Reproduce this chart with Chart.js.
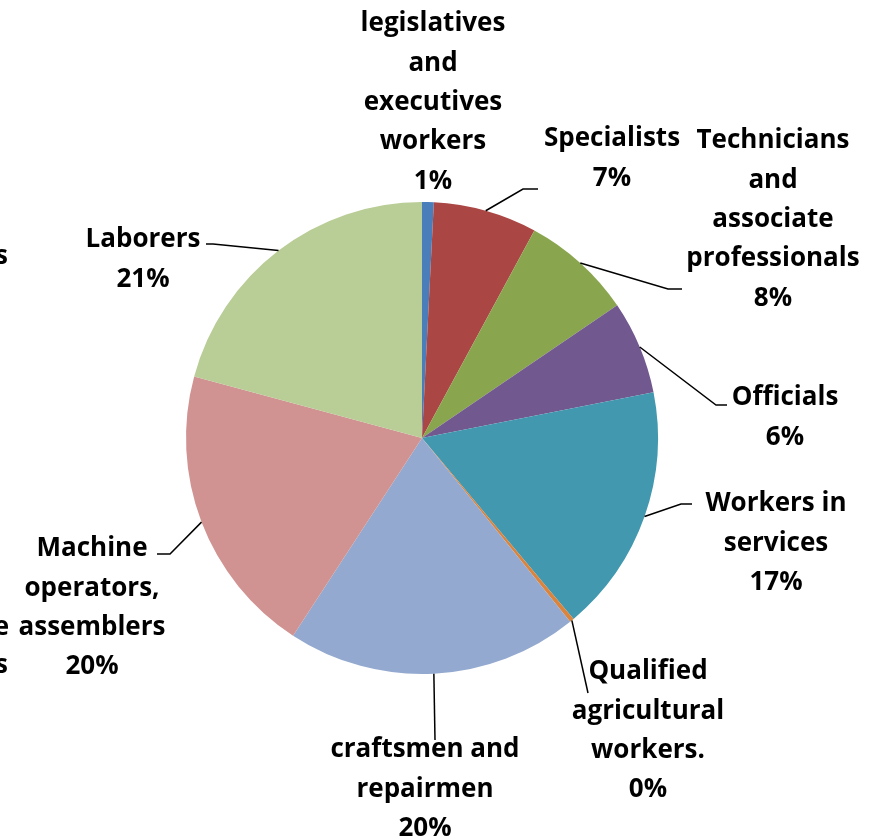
<!DOCTYPE html>
<html>
<head>
<meta charset="utf-8">
<script src="https://cdn.jsdelivr.net/npm/chart.js@4/dist/chart.umd.min.js"></script>
<style>
    html, body { margin: 0; padding: 0; background: #fff; }
    #wrap { width: 880px; height: 839px; }
</style>
</head>
<body>
<div id="wrap"><canvas id="pie-chart" width="880" height="839"></canvas></div>
<script>
// occupation groups, clockwise from the top
const categories = [
    ['legislatives', 'and', 'executives', 'workers'],
    ['Specialists'],
    ['Technicians', 'and', 'associate', 'professionals'],
    ['Officials'],
    ['Workers in', 'services'],
    ['Qualified', 'agricultural', 'workers.'],
    ['craftsmen and', 'repairmen'],
    ['Machine', 'operators,', 'assemblers'],
    ['Laborers']
];
const shares = [0.8, 7.1, 7.6, 6.4, 17.0, 0.3, 20.0, 20.0, 20.8];
const colors = ['#4A7EBB', '#AA4643', '#89A54E', '#71588F', '#4198AF', '#DB843D', '#93A9CF', '#D19392', '#B9CD96'];

// where each label sits, relative to the pie centre (x = text centre, y = first line)
// leader: elbow and end point, also relative to the centre (null = no leader line)
const labelLayout = [
    { x: 11, y: -414, leader: null },
    { x: 190, y: -299, leader: [[101, -249], [116, -249]] },
    { x: 351, y: -297, leader: [[246, -149], [260, -149]] },
    { x: 363, y: -40, leader: [[294, -33], [305, -33]] },
    { x: 354, y: 66, leader: [[259, 66], [270, 66]] },
    { x: 226, y: 234, leader: [[166, 255], [166, 255]] },
    { x: 3, y: 312, leader: [[13, 302], [13, 302]] },
    { x: -330, y: 111, leader: [[-252, 116], [-265, 116]] },
    { x: -279, y: -198, leader: [[-209, -194], [-216, -194]] }
];

const FONT = 'bold 26px "Open Sans", Lato, sans-serif';
const LINE_H = 39.3;

const outsideLabels = {
    id: 'outsideLabels',
    afterDraw(chart) {
        const ctx = chart.ctx;
        const meta = chart.getDatasetMeta(0);
        const total = shares.reduce((a, b) => a + b, 0);
        ctx.save();
        meta.data.forEach((arc, i) => {
            const cx = arc.x, cy = arc.y;
            const mid = (arc.startAngle + arc.endAngle) / 2;
            const lay = labelLayout[i];

            if (lay.leader) {
                ctx.strokeStyle = '#000';
                ctx.lineWidth = 1.5;
                ctx.beginPath();
                ctx.moveTo(cx + Math.cos(mid) * arc.outerRadius, cy + Math.sin(mid) * arc.outerRadius);
                ctx.lineTo(cx + lay.leader[0][0], cy + lay.leader[0][1]);
                ctx.lineTo(cx + lay.leader[1][0], cy + lay.leader[1][1]);
                ctx.stroke();
            }

            const lines = [...categories[i], Math.round(shares[i] / total * 100) + '%'];
            ctx.fillStyle = '#000';
            ctx.font = FONT;
            ctx.textAlign = 'center';
            ctx.textBaseline = 'middle';
            lines.forEach((t, k) => {
                ctx.fillText(t, cx + lay.x, cy + lay.y + k * LINE_H);
            });
        });

        // clipped text of the neighbouring chart at the left edge
        ctx.textAlign = 'right';
        ctx.fillText('s', 8, 257);
        ctx.fillText('e', 9, 628);
        ctx.fillText('s', 8, 666);
        ctx.restore();
    }
};

const ctx = document.getElementById('pie-chart').getContext('2d');
new Chart(ctx, {
    type: 'pie',
    data: {
        labels: categories.map(c => c.join(' ')),
        datasets: [{
            data: shares,
            backgroundColor: colors,
            borderWidth: 0
        }]
    },
    options: {
        responsive: false,
        animation: false,
        layout: {
            padding: { left: 186, right: 222, top: 202, bottom: 165 }
        },
        plugins: {
            legend: { display: false },
            tooltip: { enabled: false }
        }
    },
    plugins: [outsideLabels]
});
</script>
</body>
</html>
